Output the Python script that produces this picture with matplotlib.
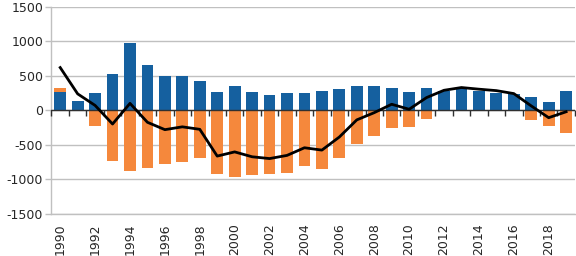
import matplotlib
matplotlib.use("Agg")
import matplotlib.pyplot as plt
from matplotlib.markers import TICKDOWN
import numpy as np

years = list(range(1990, 2020))
blue_vals = [271, 130, 252, 530, 977, 656, 500, 500, 427, 267, 354, 267, 219, 252, 252,
             277, 306, 350, 350, 330, 267, 318, 285, 330, 275, 250, 240, 194, 115, 275]
orange_vals = [58, 0, -225, -740, -885, -837, -787, -758, -700, -928, -972, -938, -933, -909, -812,
               -860, -700, -490, -380, -253, -243, -131, 0, 0, 0, 0, 0, -146, -228, -327]
line_vals = [620, 238, 70, -200, 100, -175, -282, -241, -277, -666, -605, -676, -702, -656, -545,
             -579, -389, -140, -35, 87, 14, 184, 290, 330, 306, 285, 242, 63, -108, -22]
y_ticks = [-1500, -1000, -500, 0, 500, 1000, 1500]
x_label_years = years[::2]

plt.rcParams['font.family'] = ['DejaVu Sans']
plt.rcParams['axes.unicode_minus'] = False

BLUE = "#15609f"
ORANGE = "#f5883c"
GRID = "#c0c0c0"
AXIS = "#303030"

fig = plt.figure(figsize=(5.76, 2.56), dpi=100)
ax = fig.add_axes([0.0894, 0.166, 0.9086, 0.8067])

x = np.arange(len(years))
blue = np.array(blue_vals)
orange = np.array(orange_vals)
orange_bottom = np.where(orange > 0, blue, 0)

ax.bar(x, blue, width=0.68, color=BLUE, zorder=2)
ax.bar(x, orange, width=0.68, bottom=orange_bottom, color=ORANGE, zorder=2)

# zero axis line with category-boundary tick marks
ax.axhline(0, color=AXIS, linewidth=1.0, zorder=3)
bounds = np.arange(len(years) + 1) - 0.5
ax.plot(bounds, np.zeros_like(bounds), linestyle='none', marker=TICKDOWN,
        markersize=4, markeredgewidth=1.0, color=AXIS, zorder=3, clip_on=False)

ax.plot(x, line_vals, color="black", linewidth=2.0, zorder=4, solid_joinstyle='round')

ax.set_xlim(-0.5, len(years) - 0.5)
ax.set_ylim(-1500, 1500)
ax.set_yticks(y_ticks)
ax.set_yticklabels([str(v) for v in y_ticks])
ax.yaxis.grid(True, color=GRID, linewidth=1.0, zorder=0)
ax.set_axisbelow(True)

ax.set_xticks([years.index(y) for y in x_label_years])
ax.set_xticklabels([str(y) for y in x_label_years], rotation=90, va='top', ha='center')
ax.tick_params(axis='x', length=0, pad=7, labelsize=9, colors='#262626')
ax.tick_params(axis='y', length=4, width=1, color=GRID, pad=2, labelsize=9, labelcolor='#262626')

for s in ['top', 'right']:
    ax.spines[s].set_visible(False)
ax.spines['left'].set_color(GRID)
ax.spines['bottom'].set_color(GRID)
ax.spines['left'].set_linewidth(1.0)
ax.spines['bottom'].set_linewidth(1.0)

fig.savefig("out.png", dpi=100)
